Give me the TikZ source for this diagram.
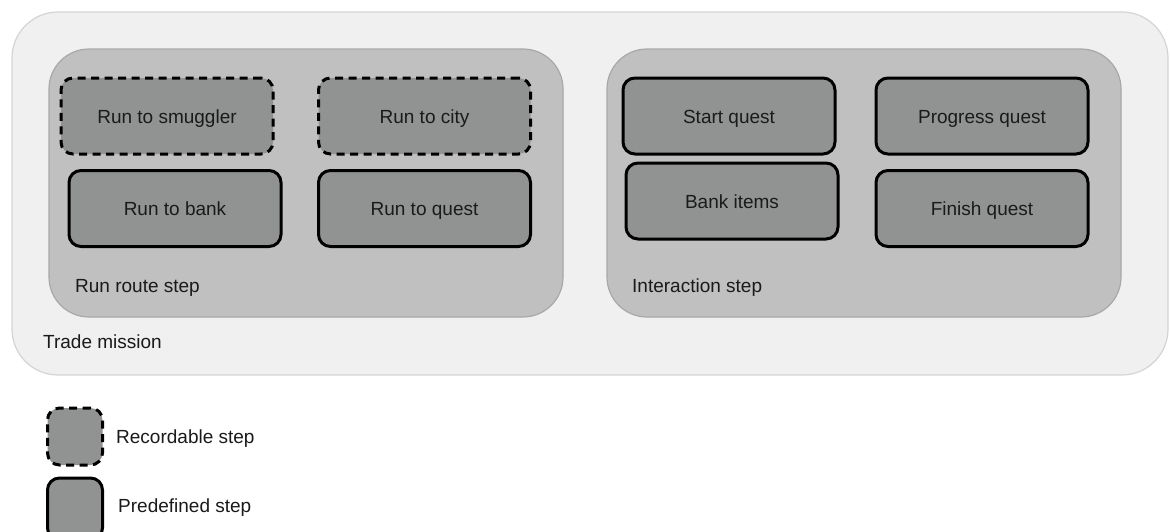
\documentclass[tikz,border=0pt]{standalone}
\usepackage{fontspec}
\setmainfont{Liberation Sans}
\begin{document}
\begin{tikzpicture}[x=1pt,y=-1pt,
  font=\fontsize{19}{22}\selectfont,
  every node/.style={text=txt},
  mission/.style={draw=outerline, fill=outerfill, line width=1.2pt, rounded corners=46pt},
  stage/.style={draw=innerline, fill=innerfill, line width=1.2pt, rounded corners=40pt},
  stepbox/.style={draw=black, fill=stepfill, line width=3pt, rounded corners=12pt,
    minimum width=212pt, minimum height=76pt, inner sep=0pt,
    text height=14pt, text depth=0pt},
  recordable/.style={stepbox, dash pattern=on 8pt off 5.5pt},
  caption/.style={anchor=base west, inner sep=0pt}
]
\definecolor{outerfill}{HTML}{F0F0F0}
\definecolor{outerline}{HTML}{D4D4D4}
\definecolor{innerfill}{HTML}{C0C0C0}
\definecolor{innerline}{HTML}{A8A8A8}
\definecolor{stepfill}{HTML}{919392}
\definecolor{txt}{HTML}{1A1A1A}

\useasboundingbox (0,0) rectangle (1170,531);
\clip (0,0) rectangle (1170,531);

% mission container and its two stages
\draw[mission] (12,12) rectangle (1168,375);
\draw[stage] (49,49) rectangle (563,317);
\draw[stage] (607,49) rectangle (1121,317);

% run route steps
\node[recordable] (smuggler) at (167,116) {Run to smuggler};
\node[recordable] (city) at (424.5,116) {Run to city};
\node[stepbox] (bank) at (175,208.5) {Run to bank};
\node[stepbox] (quest) at (424.5,208.5) {Run to quest};

% interaction steps
\node[stepbox] (start) at (729,116) {Start quest};
\node[stepbox] (progress) at (982,116) {Progress quest};
\node[stepbox] (items) at (732,201) {Bank items};
\node[stepbox] (finish) at (982,208.5) {Finish quest};

% captions
\node[caption] (runlbl) at (75,292) {Run route step};
\node[caption] (intlbl) at (632,292) {Interaction step};
\node[caption] (misslbl) at (43,348) {Trade mission};

% legend
\node[recordable, minimum width=55pt, minimum height=57pt] (legrec) at (75,436.5) {};
\node[stepbox, minimum width=55pt, minimum height=62pt] (legpre) at (75,509) {};
\node[caption] (legrectxt) at (116,443) {Recordable step};
\node[caption] (legpretxt) at (118,512) {Predefined step};
\end{tikzpicture}
\end{document}
